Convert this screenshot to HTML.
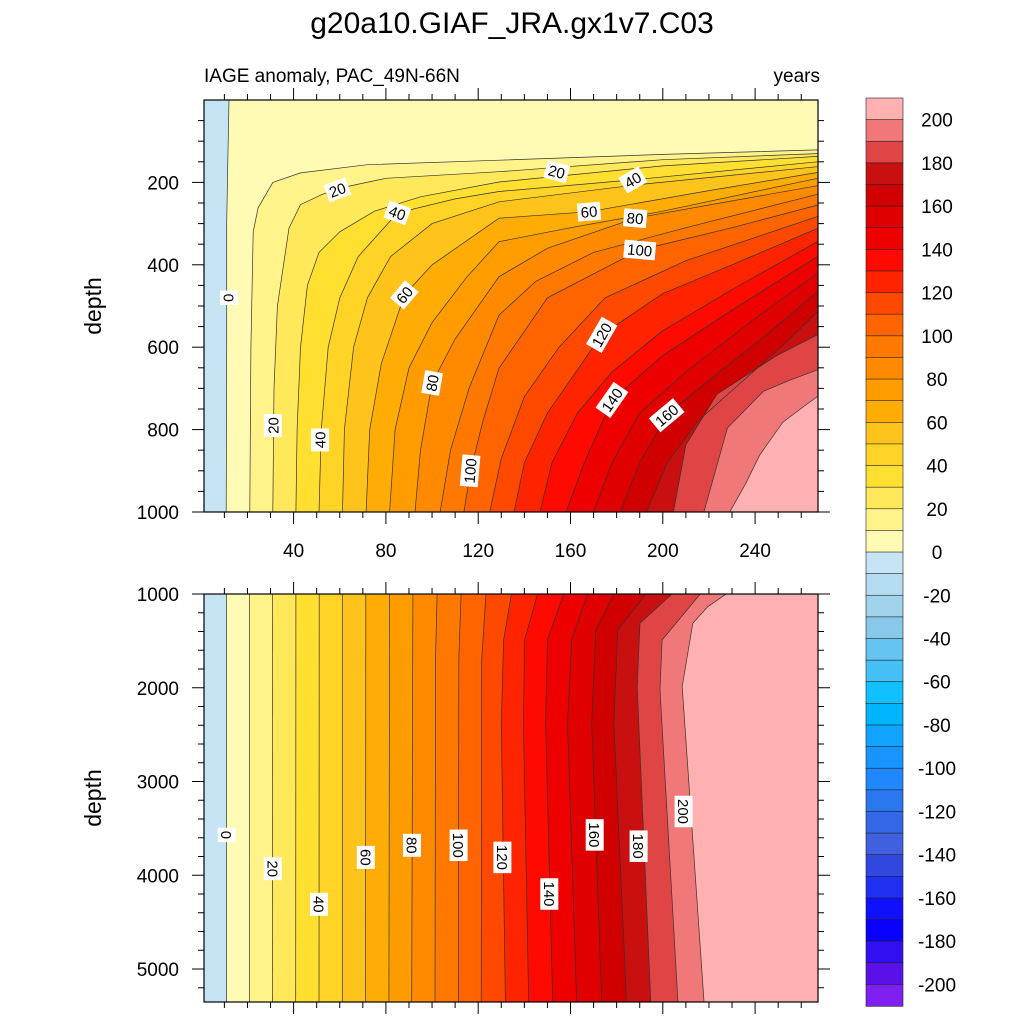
<!DOCTYPE html>
<html><head><meta charset="utf-8"><style>
html,body{margin:0;padding:0;background:#fff;}
svg{display:block;font-family:"Liberation Sans",Arial,sans-serif;}
</style></head><body>
<svg id="chart" width="1024" height="1024" viewBox="0 0 1024 1024" xmlns="http://www.w3.org/2000/svg">
<text x="512" y="33" text-anchor="middle" font-size="30">g20a10.GIAF_JRA.gx1v7.C03</text>
<text x="204" y="82" font-size="19">IAGE anomaly, PAC_49N-66N</text>
<text x="820" y="82" text-anchor="end" font-size="19">years</text>
<text transform="translate(101,306) rotate(-90)" text-anchor="middle" font-size="23">depth</text>
<text transform="translate(101,798) rotate(-90)" text-anchor="middle" font-size="23">depth</text>
<defs>
<clipPath id="clipTop"><rect x="204" y="100" width="614" height="412"/></clipPath>
<clipPath id="clipBot"><rect x="204" y="594" width="614" height="408"/></clipPath>
</defs>
<g id="topFill" clip-path="url(#clipTop)"></g>
<g id="botFill" clip-path="url(#clipBot)"></g>
<g id="axes"></g>
<g id="labels"></g>
<g id="cbar"></g>
</svg>
<script>
const levels = [0,10,20,30,40,50,60,70,80,90,100,110,120,130,140,150,160,170,180,190,200];
const bandColors = ["#8020f0","#5a10e8","#3010f0","#0a00ff","#1010ff","#2030f0","#3048e0","#4060e0","#3468e8","#2a78f0","#2088ff","#1894ff","#10a4ff","#00b4ff","#10c0ff","#44c0f4","#66c4f0","#88c8e8","#a0d4ec","#b4dcf0","#c6e4f4","#fffab4","#fff38a","#ffe85a","#ffdf30","#ffd426","#ffc41c","#ffad05","#ff9c00","#ff8a00","#ff7800","#ff6400","#ff4800","#ff2400","#ff0a00","#ee0000","#e00000","#d00000","#c81010","#e04545","#f07878","#ffb0b0"];
const cbarTicks = [200,180,160,140,120,100,80,60,40,20,0,-20,-40,-60,-80,-100,-120,-140,-160,-180,-200];
const xTickLabels = [40,80,120,160,200,240];
const topDepthLabels = [200,400,600,800,1000];
const botDepthLabels = [1000,2000,3000,4000,5000];
// top panel contours: [year, depth] per level
const topContours = [
 [[10.8,1000],[11,600],[11,300],[11.5,150],[12,0]],
 [[21,1000],[21.5,600],[22.5,320],[24.6,262],[31,200],[43,177],[72,157],[129,146],[200,132],[267,121]],
 [[31,1000],[31.5,700],[33,500],[38,311],[43,254],[52,230],[59,215],[80,190],[129,174],[200,145],[267,130]],
 [[41,1000],[41.5,800],[43,600],[46,450],[51,370],[60,320],[75,270],[95,235],[129,199],[200,160],[267,137]],
 [[51,1000],[52,800],[55,600],[60,480],[68,380],[85,274],[110,240],[129,222],[187,194],[267,150]],
 [[61.2,1000],[62,800],[66,600],[72,480],[82,380],[100,300],[129,247],[190,205],[267,162]],
 [[71.4,1000],[73,800],[78,640],[88,473],[100,400],[129,287],[168,271],[220,220],[267,176]],
 [[81.6,1000],[84,800],[90,650],[100,540],[115,430],[129,344],[160,310],[200,270],[267,190]],
 [[92.6,1000],[95,850],[100,687],[110,580],[129,429],[150,360],[188,287],[267,208]],
 [[103.5,1000],[108,850],[116,700],[129,522],[145,440],[170,370],[210,310],[267,229]],
 [[113.8,1000],[116.7,900],[122,780],[129,651],[150,480],[190,364],[230,310],[267,255]],
 [[125,1000],[130,870],[140,720],[155,600],[175,480],[210,390],[267,283]],
 [[135.5,1000],[140,880],[150,760],[173.5,570],[200,470],[230,400],[267,312]],
 [[146.8,1000],[152,880],[163,760],[178,660],[200,560],[230,460],[267,344]],
 [[158,1000],[166,880],[178,728],[200,620],[230,510],[267,380]],
 [[170,1000],[178,880],[190,760],[210,660],[240,530],[267,421]],
 [[181.4,1000],[190,880],[201.7,765],[220,680],[245,570],[267,465]],
 [[193,1000],[202,880],[215,780],[235,680],[255,580],[267,514]],
 [[204.6,1000],[210,837],[223.5,714],[249.5,620],[267,570]],
 [[217.8,1000],[228,796],[243.6,707],[255,680],[267,655]],
 [[229,1000],[236,930],[242,862],[252,782],[262,740],[267,720]]
];
const botContours = [
 [[10.9,1000],[10.9,5360]],
 [[20.9,1000],[20.9,5360]],
 [[30.9,1000],[30.8,5360]],
 [[41,1000],[40.9,5360]],
 [[51.1,1000],[51,5360]],
 [[61.1,1000],[61.1,5360]],
 [[71.3,1000],[71.2,5360]],
 [[81.6,1000],[81.3,5360]],
 [[91.7,1000],[91.2,5360]],
 [[102.2,1000],[101.5,1700],[101.3,5360]],
 [[112.6,1000],[111.6,1700],[111.4,5360]],
 [[123.4,1000],[121.5,1700],[121.3,5360]],
 [[134.4,1000],[131,1490],[130,2380],[131.8,5360]],
 [[145.7,1000],[140.1,1490],[139.6,2380],[141.9,5360]],
 [[157,1000],[150,1490],[149.2,2380],[152.3,5360]],
 [[167.4,1000],[160.5,1490],[158.7,2380],[162.7,5360]],
 [[178.8,1000],[170.9,1384],[169.2,2380],[173.5,5360]],
 [[192.7,1000],[180.5,1384],[178.8,2380],[184.3,5360]],
 [[204,1000],[190.1,1313],[188.9,1988],[194.8,5360]],
 [[216.2,1000],[199.7,1491],[198.8,2024],[206.6,5360]],
 [[227.5,1000],[219.5,1135],[213,1313],[208.4,1988],[217.9,5360]]
];
const topLabelText = ["0","20","40","60","80","100","20","40","20","40","60","80","100","120","140","160"];
const topLabelPos = [[12,480],[31,790],[51.5,825],[88,473],[100,687],[116.5,900],[59,218],[85,274],[154,174],[187,194],[168,271],[188,287],[190,364],[173.5,570],[178,728],[201.7,765]];
const topLabelRot = [90,-90,-90,-50,-80,-85,-20,20,15,-30,-5,5,5,-60,-55,-40];
const botLabelText = ["0","20","40","60","80","100","120","140","160","180","200"];
const botLabelPos = [[11,3570],[31,3930],[51,4310],[71.3,3810],[91.3,3680],[111.5,3680],[130.5,3810],[150.8,4200],[170.5,3570],[189.5,3690],[209,3320]];

const NS = "http://www.w3.org/2000/svg";
const xS = yr => 201.3 + yr * 2.3075;
const yT = d => 100 + d * 0.412;
const yB = d => 594 + (d - 1000) * 0.09375;
function mk(tag, attrs, parent) {
  const el = document.createElementNS(NS, tag);
  for (const k in attrs) el.setAttribute(k, attrs[k]);
  parent.appendChild(el);
  return el;
}
function bandColorFor(level) { return bandColors[(level + 200) / 10 + 1]; }

function drawPanel(g, contours, yF, dTop, dBot) {
  const bg = mk("rect", {x: 204, y: yF(dTop), width: 614, height: yF(dBot) - yF(dTop), fill: bandColorFor(-10)}, g);
  
  
  const xr = xS(290);
  const yTopOut = yF(dTop) - 20;
  const yBotOut = yF(dBot) + 20;
  contours.forEach((pts, i) => {
    const lvl = levels[i];
    // order points from bottom to top
    let ordered = pts.slice();
    if (ordered[0][1] < ordered[ordered.length - 1][1]) ordered.reverse();
    let p = [];
    p.push(xS(ordered[0][0]).toFixed(1) + "," + yBotOut);
    ordered.forEach(q => p.push(xS(q[0]).toFixed(1) + "," + yF(q[1]).toFixed(1)));
    const last = ordered[ordered.length - 1];
    if (last[1] <= dTop) {
      p.push(xS(last[0]).toFixed(1) + "," + yTopOut);
      p.push(xr + "," + yTopOut);
    } else {
      p.push(xr + "," + yF(last[1]).toFixed(1));
    }
    p.push(xr + "," + yBotOut);
    const poly = mk("polygon", {points: p.join(" "), fill: bandColorFor(lvl), stroke: "none"}, g);
    
    
  });
  contours.forEach((pts, i) => {
    const lvl = levels[i];
    const line = mk("polyline", {points: pts.map(q => xS(q[0]).toFixed(1) + "," + yF(q[1]).toFixed(1)).join(" "), fill: "none", stroke: "#333", "stroke-width": 0.7}, g);
    
    
  });
}
drawPanel(document.getElementById("topFill"), topContours, yT, 0, 1000);
drawPanel(document.getElementById("botFill"), botContours, yB, 1000, 5352);

// axes
const ax = document.getElementById("axes");
function frame(y0, y1, name) {
  const r = mk("rect", {x: 204, y: y0, width: 614, height: y1 - y0, fill: "none", stroke: "#000", "stroke-width": 1.2}, ax);
  
  
}
frame(100, 512, "top-panel-frame");
frame(594, 1002, "bottom-panel-frame");
function tick(x1, y1, x2, y2) {
  const t = mk("line", {x1: x1, y1: y1, x2: x2, y2: y2, stroke: "#000", "stroke-width": 1}, ax);
  
  
}
for (let yr = 10; yr <= 260; yr += 10) {
  const x = xS(yr);
  const len = (yr % 40 === 0) ? 12 : 6;
  tick(x, 100, x, 100 - len);
  tick(x, 512, x, 512 + len);
  tick(x, 594, x, 594 - len);
  tick(x, 1002, x, 1002 + len);
}
xTickLabels.forEach(v => {
  const t = mk("text", {x: xS(v), y: 557, "text-anchor": "middle", "font-size": 19}, ax);
  t.textContent = v;
  
  
});
for (let d = 50; d <= 1000; d += 50) {
  const y = yT(d);
  const len = (d % 200 === 0) ? 12 : 6;
  tick(204, y, 204 - len, y);
  tick(818, y, 818 + len, y);
}
topDepthLabels.forEach(v => {
  const t = mk("text", {x: 179, y: yT(v) + 7, "text-anchor": "end", "font-size": 19}, ax);
  t.textContent = v;
  
  
});
for (let d = 1000; d <= 5200; d += 200) {
  const y = yB(d);
  const len = (d % 1000 === 0) ? 12 : 6;
  tick(204, y, 204 - len, y);
  tick(818, y, 818 + len, y);
}
botDepthLabels.forEach(v => {
  const t = mk("text", {x: 179, y: yB(v) + 7, "text-anchor": "end", "font-size": 19}, ax);
  t.textContent = v;
  
  
});

// contour labels
const lg = document.getElementById("labels");
function clabel(txt, x, y, rot) {
  const g = mk("g", {transform: "translate(" + x.toFixed(1) + "," + y.toFixed(1) + ") rotate(" + rot + ")"}, lg);
  
  
  const w = txt.length * 8.5 + 6;
  mk("rect", {x: -w / 2, y: -9, width: w, height: 18, fill: "#fff"}, g);
  const t = mk("text", {x: 0, y: 5.5, "text-anchor": "middle", "font-size": 15}, g);
  t.textContent = txt;
}
topLabelText.forEach((s, i) => clabel(s, xS(topLabelPos[i][0]), yT(topLabelPos[i][1]), topLabelRot[i]));
botLabelText.forEach((s, i) => clabel(s, xS(botLabelPos[i][0]), yB(botLabelPos[i][1]), 90));

// colorbar
const cb = document.getElementById("cbar");
const boxH = 21.62, cbTop = 98;
for (let k = 0; k < bandColors.length; k++) {
  const idx = bandColors.length - 1 - k;
  const r = mk("rect", {x: 866, y: cbTop + k * boxH, width: 37, height: boxH + 0.3, fill: bandColors[idx], stroke: "#222", "stroke-width": 0.6}, cb);
  
  
}
cbarTicks.forEach(v => {
  const y = cbTop + (210 - v) / 10 * boxH;
  const t = mk("text", {x: 937, y: y + 7, "text-anchor": "middle", "font-size": 19}, cb);
  t.textContent = v;
  
  
});
</script>
</body></html>
